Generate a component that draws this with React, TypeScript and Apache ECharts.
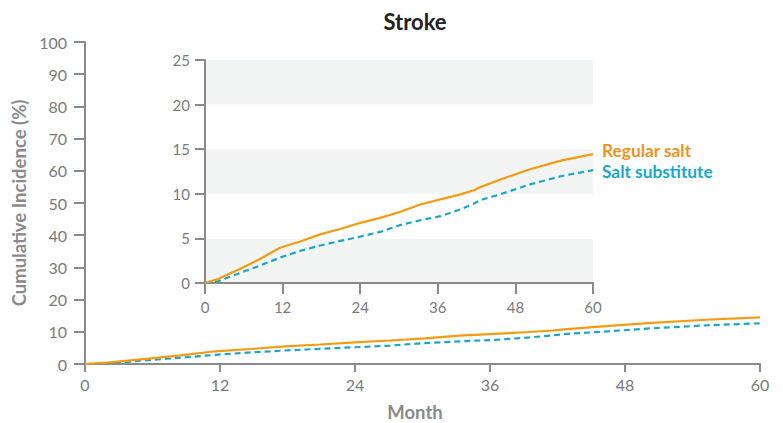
import React, { useEffect, useRef } from "react";
import * as echarts from "echarts";

const months = [0, 2, 5.4, 8.5, 11.6, 14.7, 17.8, 20.9, 24, 27.1, 30.2, 33.3, 36.4, 39.5, 41.6, 42.6, 45.7, 50, 55.2, 60];
const regularSalt = [0, 0.45, 1.57, 2.7, 3.95, 4.65, 5.45, 6.05, 6.74, 7.3, 7.98, 8.8, 9.37, 9.93, 10.4, 10.75, 11.6, 12.7, 13.75, 14.45];
const saltSubstitute = [0, 0.2, 1.12, 1.95, 2.85, 3.6, 4.2, 4.72, 5.2, 5.73, 6.5, 7.04, 7.49, 8.25, 8.9, 9.3, 9.95, 11.0, 12.0, 12.65];

const seriesNames = ["Regular salt", "Salt substitute"];
const titleText = "Stroke";
const yAxisTitle = "Cumulative Incidence (%)";
const xAxisTitle = "Month";
const pValueText = "P=0.006";

const ORANGE = "#F59B12";
const BLUE = "#18A6CC";
const AXIS = "#8a8a8a";
const LABEL = "#7a7a7a";
const FONT = "Lato, 'Noto Sans', sans-serif";

export default function App() {
  const ref = useRef<HTMLDivElement>(null);
  useEffect(() => {
    if (!ref.current) return;
    const chart = echarts.init(ref.current, undefined, { renderer: "svg" });
    const pairs = (vals: number[]) => months.map((m, i) => [m, vals[i]]);
    const axisLine = { show: true, lineStyle: { color: AXIS, width: 2 } };
    chart.setOption({
      animation: false,
      backgroundColor: "#ffffff",
      textStyle: { fontFamily: FONT },
      grid: [
        { left: 85, top: 42, width: 675, height: 322 },
        { left: 205, top: 60, width: 388, height: 223 },
      ],
      xAxis: [
        {
          type: "value", gridIndex: 0, min: 0, max: 60, interval: 12,
          axisLine, splitLine: { show: false },
          axisTick: { show: true, length: 8, lineStyle: { color: AXIS, width: 2 } },
          axisLabel: { color: LABEL, fontSize: 16, margin: 12, fontFamily: FONT },
        },
        {
          type: "value", gridIndex: 1, min: 0, max: 60, interval: 12,
          axisLine, splitLine: { show: false },
          axisTick: { show: true, length: 11, lineStyle: { color: AXIS, width: 2 } },
          axisLabel: { color: LABEL, fontSize: 15, margin: 16, fontFamily: FONT },
        },
      ],
      yAxis: [
        {
          type: "value", gridIndex: 0, min: 0, max: 100, interval: 10,
          axisLine, splitLine: { show: false },
          axisTick: { show: true, length: 11, lineStyle: { color: AXIS, width: 2 } },
          axisLabel: { color: LABEL, fontSize: 16, margin: 18, fontFamily: FONT },
          name: yAxisTitle, nameLocation: "middle", nameGap: 57, nameRotate: 90,
          nameTextStyle: { color: "#8a8a8a", fontSize: 18.5, fontWeight: "bold", fontFamily: FONT },
        },
        {
          type: "value", gridIndex: 1, min: 0, max: 25, interval: 5,
          axisLine, splitLine: { show: false },
          splitArea: { show: true, areaStyle: { color: ["#f3f5f4", "#ffffff"] } },
          axisTick: { show: true, length: 10, lineStyle: { color: AXIS, width: 2 } },
          axisLabel: { color: LABEL, fontSize: 15, margin: 15, fontFamily: FONT },
        },
      ],
      series: [
        {
          name: seriesNames[0], type: "line", xAxisIndex: 0, yAxisIndex: 0,
          data: pairs(regularSalt), showSymbol: false, z: 3,
          lineStyle: { color: ORANGE, width: 2.2 },
        },
        {
          name: seriesNames[1], type: "line", xAxisIndex: 0, yAxisIndex: 0,
          data: pairs(saltSubstitute), showSymbol: false, z: 2,
          lineStyle: { color: BLUE, width: 2.2, type: [6, 4] },
        },
        {
          name: seriesNames[0], type: "line", xAxisIndex: 1, yAxisIndex: 1,
          data: pairs(regularSalt), showSymbol: false, z: 3,
          lineStyle: { color: ORANGE, width: 2.2 },
        },
        {
          name: seriesNames[1], type: "line", xAxisIndex: 1, yAxisIndex: 1,
          data: pairs(saltSubstitute), showSymbol: false, z: 2,
          lineStyle: { color: BLUE, width: 2.2, type: [6, 4] },
        },
      ],
      graphic: [
        {
          type: "text", x: 415, y: 21,
          style: { text: titleText, fill: "#222222", font: `bold 22px ${FONT}`, textAlign: "center", textVerticalAlign: "middle" },
        },
        {
          type: "text", x: 415, y: 412,
          style: { text: xAxisTitle, fill: "#8a8a8a", font: `bold 18.5px ${FONT}`, textAlign: "center", textVerticalAlign: "middle" },
        },
        {
          type: "text", x: 223, y: 82,
          style: { text: pValueText, fill: "#555555", font: `15.5px ${FONT}`, textAlign: "left", textVerticalAlign: "middle" },
        },
        {
          type: "text", x: 602, y: 150,
          style: { text: seriesNames[0], fill: "#EE9320", font: `bold 17.3px ${FONT}`, textAlign: "left", textVerticalAlign: "middle" },
        },
        {
          type: "text", x: 602, y: 171,
          style: { text: seriesNames[1], fill: "#16A8CF", font: `bold 17.3px ${FONT}`, textAlign: "left", textVerticalAlign: "middle" },
        },
      ],
    });
    return () => chart.dispose();
  }, []);
  return (
    <div
      ref={ref}
      style={{ position: "fixed", left: 0, top: 0, width: 783, height: 423, background: "#fff" }}
    />
  );
}
